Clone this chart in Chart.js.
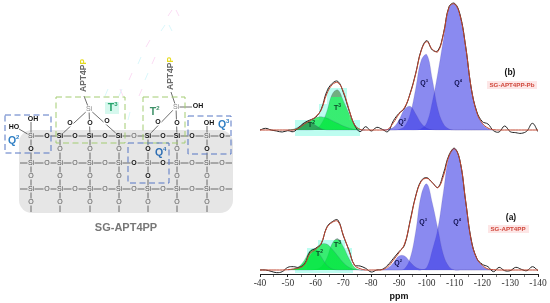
<!DOCTYPE html>
<html>
<head>
<meta charset="utf-8">
<style>
  html, body { margin: 0; padding: 0; background: #fff; }
  canvas { display: block; }
</style>
<script src="https://cdn.jsdelivr.net/npm/chart.js@4"></script>
</head>
<body>
<canvas id="myChart" width="550" height="303"></canvas>
<script>
// **********
// * Values *
// **********
var ppmFull = [-40,-42,-44,-46,-48,-50,-52,-54,-56,-58,-60,-62,-64,-66,-68,-70,-72,-74,-76,-78,-80,-82,-84,-86,-88,-90,
               -92,-94,-96,-98,-100,-102,-104,-106,-108,-110,-112,-114,-116,-118,-120,-122,-124,-126,-128,-130,-132,-134,-136,-138,-140];
var ppmT = [-50,-52,-54,-56,-58,-60,-62,-64,-66,-68,-70,-72,-74,-76,-78];
var ppmQ = [-84,-86,-88,-90,-92,-94,-96,-98,-100,-102,-104,-106,-108,-110,-112,-114,-116,-118,-120,-122,-124];
var tickLabels = [-40,-50,-60,-70,-80,-90,-100,-110,-120,-130,-140];
var minorTicks = [-45,-55,-65,-75,-85,-95,-105,-115,-125,-135];

// (a) SG-APT4PP
var spectrumA = [0,0,-4,-8,-5,8,10,8,18,55,65,78,128,145,150,102,60,15,12,5,-6,0,2,15,35,55,
                 75,148,222,268,277,262,248,290,345,365,325,205,90,35,17,10,-5,8,-2,-2,8,2,-2,10,-2];
var fitA = [0,0,0,0,0,1,3,6,16,50,62,80,126,143,146,104,58,14,4,0,0,0,1,10,30,52,
            78,145,220,266,275,262,247,282,342,363,325,205,88,34,14,3,1,0,0,0,0,0,0,0,0];
var t1A = [0,3,10,30,58,62,40,15,3,0,0,0,0,0,0];
var t2A = [0,3,10,22,42,65,78,78,62,42,22,8,2,0,0];
var t3A = [0,0,0,0,0,2,10,35,80,94,70,35,8,0,0];
var q2A = [0,6,22,42,42,24,8,2,0,0,0,0,0,0,0,0,0,0,0,0,0];
var q3A = [0,0,0,0,4,35,115,225,258,200,122,45,10,0,0,0,0,0,0,0,0];
var q4A = [0,0,0,0,0,0,0,0,8,60,125,235,340,365,325,205,90,35,12,2,0];

// (b) SG-APT4PP-Pb
var spectrumB = [0,5,0,-3,-6,-2,-5,8,22,30,38,62,115,140,146,112,60,15,-5,10,-3,8,2,-5,28,50,
                 65,110,170,240,268,240,238,290,370,380,345,250,125,55,25,18,-2,-6,12,-5,-8,-10,-3,20,-5];
var fitB = [0,0,0,0,0,0,0,6,18,28,40,60,108,136,142,115,62,16,2,0,0,0,0,2,22,48,
            68,108,168,238,265,242,235,288,368,378,342,248,125,52,20,6,1,0,0,0,0,0,0,0,0];
var t1B = [0,2,10,22,25,14,4,0,0,0,0,0,0,0,0];
var t2B = [0,2,8,17,28,37,40,36,28,20,12,6,2,0,0];
var t3B = [0,0,0,0,0,3,18,55,108,120,88,50,16,2,0];
var q2B = [0,2,8,30,62,71,48,20,5,1,0,0,0,0,0,0,0,0,0,0,0];
var q3B = [0,0,0,2,11,47,124,209,226,151,62,18,3,0,0,0,0,0,0,0,0];
var q4B = [0,0,0,0,0,0,0,4,22,85,172,272,366,378,342,248,125,52,18,4,0];

var blueFill = 'rgba(60, 60, 230, 0.6)';
var greenFill = 'rgba(0, 230, 60, 0.7)';

function pts(xs, ys) {
    return xs.map(function (x, i) { return { x: x, y: ys[i] }; });
}

function peak(xs, ys, axis, color) {
    return {
        data: pts(xs, ys), yAxisID: axis, order: 3,
        backgroundColor: color, borderColor: 'rgba(70, 60, 150, 0.35)', borderWidth: 0.5,
        fill: { value: 0 }, pointRadius: 0, tension: 0.4
    };
}

function trace(ys, axis, color, order) {
    return {
        data: pts(ppmFull, ys), yAxisID: axis, order: order,
        borderColor: color, borderWidth: 1, fill: false, pointRadius: 0, tension: 0.4
    };
}

// green above the pale band is duller, as on the original
function cappedGreen(ctx, capY) {
    var g = ctx.createLinearGradient(0, 0, 0, 303);
    g.addColorStop(0, 'rgba(105, 165, 115, 0.9)');
    g.addColorStop(capY / 303, 'rgba(105, 165, 115, 0.9)');
    g.addColorStop(capY / 303, greenFill);
    g.addColorStop(1, greenFill);
    return g;
}

// ********************
// * Structure (left) *
// ********************
function atom(ctx, txt, x, y, color, font, bg) {
    ctx.font = font;
    if (bg) {
        ctx.fillStyle = bg;
        ctx.fillRect(x - 3.5, y - 3.5, 7, 7);
    }
    ctx.fillStyle = color;
    ctx.fillText(txt, x, y);
}

function supLabel(ctx, txt, sup, x, y, color, size) {
    ctx.font = 'bold ' + size + 'px "Liberation Sans"';
    var w = ctx.measureText(txt).width;
    ctx.fillStyle = color;
    ctx.textAlign = 'left';
    ctx.fillText(txt, x - w / 2 - 1, y);
    ctx.font = 'bold ' + Math.round(size * 0.6) + 'px "Liberation Sans"';
    ctx.fillText(sup, x + w / 2 - 1, y - size * 0.35);
    ctx.textAlign = 'center';
}

function line(ctx, x1, y1, x2, y2) {
    ctx.beginPath();
    ctx.moveTo(x1, y1);
    ctx.lineTo(x2, y2);
    ctx.stroke();
}

function dashBox(ctx, x1, y1, x2, y2, color) {
    ctx.save();
    ctx.strokeStyle = color;
    ctx.lineWidth = 1;
    ctx.setLineDash([6, 3.5]);
    ctx.strokeRect(x1, y1, x2 - x1, y2 - y1);
    ctx.restore();
}

function sideText(ctx, x, y) {
    ctx.save();
    ctx.translate(x, y);
    ctx.rotate(-Math.PI / 2);
    ctx.font = 'bold 8.5px "Liberation Sans"';
    ctx.textAlign = 'left';
    ctx.fillStyle = '#6a6a6a';
    ctx.fillText('APT4P', 0, 0);
    var w = ctx.measureText('APT4P').width;
    ctx.fillStyle = '#e6dc20';
    ctx.fillText('P', w, 0);
    ctx.restore();
}

var structurePlugin = {
    id: 'structure',
    beforeDraw: function (chart) {
        var ctx = chart.ctx;
        ctx.save();
        ctx.fillStyle = '#e6e6e6';
        ctx.beginPath();
        ctx.roundRect(19, 130, 214, 83, 13);
        ctx.fill();

        // faint ghost strokes above the structure
        ctx.lineWidth = 1;
        [[172,10,168,16],[165,25,161,31],[150,40,146,47],[141,57,138,64],[132,73,129,80],[122,89,119,96],
         [176,10,179,16],[169,25,172,31],[155,57,152,64],[148,73,145,80],[142,89,139,96],
         [108,89,105,96],[120,89,123,96],[130,112,128,120],[75,132,72,142]].forEach(function (d, i) {
            ctx.strokeStyle = i % 2 ? '#d9f7fb' : '#fbdcf4';
            line(ctx, d[0], d[1], d[2], d[3]);
        });

        // pale bands behind the T peaks
        ctx.fillStyle = '#bdfdf0';
        ctx.fillRect(295, 120, 65, 16);
        ctx.fillRect(319, 104, 30, 16);
        ctx.fillRect(327, 88, 20, 16);
        ctx.fillRect(295, 270, 58, 3);
        ctx.fillRect(307, 248, 45, 22);
        ctx.fillRect(318, 240, 27, 8);
        ctx.restore();
    },
    afterDraw: function (chart) {
        var ctx = chart.ctx;
        var cols = [31, 60, 90, 119, 148, 177, 207];
        var rows = [136, 163, 189];
        var oX = [47, 75, 105, 134, 163, 192, 222];
        var oY = [149, 176, 202];
        var bold = 'bold 7px "Liberation Sans"';
        var thin = '7px "Liberation Sans"';
        var gray = '#e6e6e6';

        ctx.save();
        ctx.textAlign = 'center';
        ctx.textBaseline = 'middle';

        // bonds
        ctx.strokeStyle = '#4a4a4a';
        ctx.lineWidth = 0.8;
        line(ctx, 31, 136, 230, 136);
        line(ctx, 20, 163, 232, 163);
        line(ctx, 20, 189, 232, 189);
        cols.forEach(function (x) { line(ctx, x, 136, x, 212); });
        line(ctx, 31, 136, 31, 122);
        line(ctx, 207, 136, 207, 126);
        line(ctx, 19, 129, 31, 136);
        // T3 and T2 units
        line(ctx, 89, 109, 60, 136);
        line(ctx, 89, 109, 90, 136);
        line(ctx, 89, 109, 119, 136);
        line(ctx, 84, 96, 89, 109);
        line(ctx, 176, 107, 148, 136);
        line(ctx, 176, 107, 177, 136);
        line(ctx, 176, 107, 192, 107);
        line(ctx, 171, 92, 176, 107);

        // atoms in the network
        rows.forEach(function (y, r) {
            cols.forEach(function (x, c) {
                var strong = r === 0 && c > 0 && c < 6;
                atom(ctx, 'Si', x, y, strong ? '#111' : '#555', strong ? bold : thin, gray);
            });
            oX.forEach(function (x, c) {
                var strong = (r === 0 && c !== 3) || (r === 1 && (c === 3 || c === 4));
                atom(ctx, 'O', x, y, strong ? '#111' : '#555', strong ? bold : thin, gray);
            });
        });
        oY.forEach(function (y, r) {
            cols.forEach(function (x, c) {
                var strong = (r === 0 && (c === 0 || c === 4 || c === 6)) || (r === 1 && c === 4);
                atom(ctx, 'O', x, y, strong ? '#111' : '#555', strong ? bold : thin, gray);
            });
        });

        // atoms above the network
        atom(ctx, 'Si', 89, 109, '#888', thin, '#fff');
        atom(ctx, 'O', 70, 123, '#111', bold, '#fff');
        atom(ctx, 'O', 90, 123, '#111', bold, '#fff');
        atom(ctx, 'O', 107, 121, '#111', bold, '#fff');
        atom(ctx, 'Si', 176, 107, '#888', thin, '#fff');
        atom(ctx, 'O', 158, 122, '#111', bold, '#fff');
        atom(ctx, 'O', 177, 123, '#111', bold, '#fff');
        atom(ctx, 'OH', 198, 106, '#111', bold, '#fff');
        atom(ctx, 'OH', 33, 119, '#111', bold);
        atom(ctx, 'HO', 14, 127, '#111', bold);
        atom(ctx, 'OH', 209, 123, '#111', bold);

        // dashed groups
        dashBox(ctx, 56, 97, 125, 143, '#a3cc72');
        dashBox(ctx, 143, 97, 185, 143, '#a3cc72');
        dashBox(ctx, 5, 115, 51, 153, '#5677c4');
        dashBox(ctx, 188, 116, 231, 154, '#5677c4');
        dashBox(ctx, 128, 143, 169, 183, '#5677c4');

        ctx.fillStyle = '#d6f8ee';
        ctx.fillRect(105, 102, 14, 12);
        supLabel(ctx, 'T', '3', 112, 108, '#27a36a', 10.5);
        supLabel(ctx, 'T', '2', 154, 112, '#3e9168', 10.5);
        supLabel(ctx, 'Q', '2', 13, 141, '#2f7fc4', 10.5);
        supLabel(ctx, 'Q', '3', 223, 125, '#2f7fc4', 10.5);
        supLabel(ctx, 'Q', '4', 160, 153, '#2f6fb4', 10.5);

        sideText(ctx, 84, 92);
        sideText(ctx, 171, 90);

        ctx.font = 'bold 11px "Liberation Sans"';
        ctx.fillStyle = '#777';
        ctx.fillText('SG-APT4PP', 126, 228);

        // spectrum annotations
        supLabel(ctx, 'Q', '2', 402, 122, '#111150', 7);
        supLabel(ctx, 'Q', '3', 424, 83, '#111150', 7);
        supLabel(ctx, 'Q', '4', 458, 83, '#111150', 7);
        supLabel(ctx, 'T', '2', 311, 125, '#0d4a2a', 7.5);
        supLabel(ctx, 'T', '3', 337, 108, '#0d4a2a', 7.5);
        supLabel(ctx, 'Q', '2', 398, 263, '#111150', 7);
        supLabel(ctx, 'Q', '3', 423, 222, '#111150', 7);
        supLabel(ctx, 'Q', '4', 457, 222, '#111150', 7);
        supLabel(ctx, 'T', '2', 319, 254, '#0d4a2a', 7.5);
        supLabel(ctx, 'T', '3', 337, 245, '#0d4a2a', 7.5);

        ctx.font = 'bold 8.5px "Liberation Sans"';
        ctx.fillStyle = '#111';
        ctx.fillText('(b)', 510, 73);
        ctx.fillText('(a)', 511, 218);

        ctx.fillStyle = '#fde6e6';
        ctx.fillRect(487, 81, 50, 8);
        ctx.fillRect(488, 225, 41, 8);
        ctx.font = 'bold 6.2px "Liberation Sans"';
        ctx.fillStyle = '#d0483c';
        ctx.fillText('SG-APT4PP-Pb', 512, 85);
        ctx.fillText('SG-APT4PP', 508, 229);
        ctx.restore();
    }
};

// *********
// * Chart *
// *********
var ctx = document.getElementById('myChart').getContext('2d');
var capA = cappedGreen(ctx, 240);
var capB = cappedGreen(ctx, 97);
var chart = new Chart(ctx, {
    type: 'line',
    data: {
        datasets: [
            peak(ppmT, t1A, 'yA', greenFill), peak(ppmT, t2A, 'yA', greenFill), peak(ppmT, t3A, 'yA', capA),
            peak(ppmQ, q2A, 'yA', blueFill), peak(ppmQ, q3A, 'yA', blueFill), peak(ppmQ, q4A, 'yA', blueFill),
            trace(fitA, 'yA', '#c0452f', 1), trace(spectrumA, 'yA', '#222', 2),
            peak(ppmT, t1B, 'yB', 'rgba(45, 150, 85, 0.8)'), peak(ppmT, t2B, 'yB', greenFill), peak(ppmT, t3B, 'yB', capB),
            peak(ppmQ, q2B, 'yB', blueFill), peak(ppmQ, q3B, 'yB', blueFill), peak(ppmQ, q4B, 'yB', blueFill),
            trace(fitB, 'yB', '#c0452f', 1), trace(spectrumB, 'yB', '#222', 2)
        ]
    },
    options: {
        responsive: false,
        animation: false,
        layout: { padding: { left: 260, right: 12, top: 0, bottom: 0 } },
        plugins: { legend: { display: false }, tooltip: { enabled: false } },
        scales: {
            x: {
                type: 'linear', reverse: true, min: -140, max: -40,
                afterFit: function (s) { s.height = 29; s.paddingLeft = 0; s.paddingRight = 0; },
                afterBuildTicks: function (s) {
                    s.ticks = tickLabels.concat(minorTicks).sort(function (a, b) { return a - b; })
                        .map(function (v) { return { value: v }; });
                },
                grid: {
                    display: true, drawOnChartArea: false, drawTicks: true, tickLength: 3, color: '#222',
                    lineWidth: function (c) { return c.tick && c.tick.value % 10 === 0 ? 1 : 0.6; }
                },
                border: { color: '#222', width: 1 },
                ticks: {
                    maxRotation: 0, autoSkip: false, padding: 1, color: '#333',
                    font: { family: '"Liberation Serif"', size: 9.5 },
                    callback: function (v) { return v % 10 === 0 ? String(v) : ''; }
                },
                title: {
                    display: true, text: 'ppm', color: '#111', padding: { top: 0, bottom: 1 },
                    font: { family: '"Liberation Sans"', size: 9, weight: 'bold' }
                }
            },
            yA: { display: false, min: -12, max: 810 },
            yB: { display: false, min: -432, max: 390 }
        }
    },
    plugins: [structurePlugin]
});
</script>
</body>
</html>
